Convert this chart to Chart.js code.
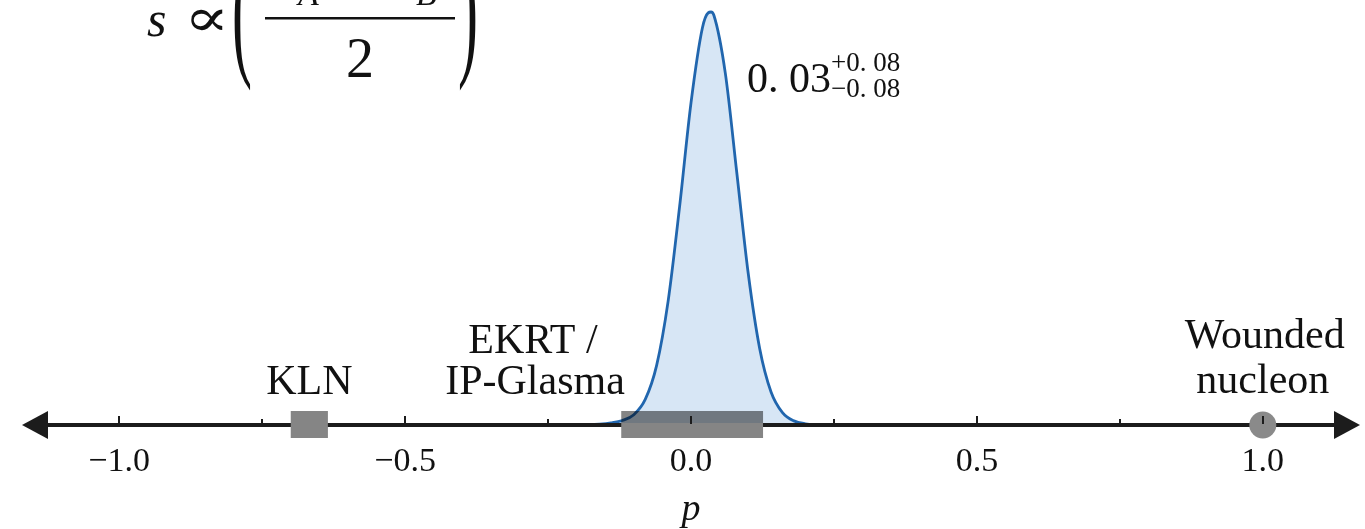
<!DOCTYPE html>
<html><head><meta charset="utf-8">
<script src="https://cdn.jsdelivr.net/npm/chart.js@4.4.1/dist/chart.umd.min.js"></script>
<style>html,body{margin:0;padding:0;background:#fff;overflow:hidden}</style>
</head><body>
<canvas id="c" width="1365" height="529"></canvas>
<script>
// ---- data ----
const pValues = [-0.30,-0.26,-0.22,-0.20,-0.18,-0.16,-0.14,-0.12,-0.10,-0.08,-0.06,-0.04,-0.02,0.00,0.02,0.03,0.035,0.04,0.06,0.08,0.10,0.12,0.14,0.16,0.18,0.20,0.22,0.24,0.28];
const density = [0,0,0.0001,0.0003,0.0007,0.0020,0.0050,0.0110,0.0250,0.062,0.145,0.300,0.528,0.780,0.962,0.998,1.000,0.992,0.852,0.612,0.368,0.186,0.080,0.030,0.010,0.0030,0.0008,0.0002,0];
const tickValues = [-1,-0.75,-0.5,-0.25,0,0.25,0.5,0.75,1];
const tickLabels = ['\u22121.0','','\u22120.5','','0.0','','0.5','','1.0'];
const modelNames = ['KLN','EKRT /','IP-Glasma'];
const modelLo = [-0.700,-0.122];
const modelHi = [-0.635,0.126];
const woundedP = [1.0];
const woundedLabel = ['Wounded','nucleon'];
const estimateText = ['0. 03','+0. 08','\u22120. 08'];
const formulaText = ['s','\u221D','(','T','A','p','+','T','B','p','2',')'];

const SERIF = '"Liberation Serif","Times New Roman","DejaVu Serif",serif';
const INK = '#1c1c1c';
const BOX = '#858585';

function stretched(ctx, ch, x, top, bottom, font){
  ctx.font = font;
  const m = ctx.measureText(ch);
  const asc = m.actualBoundingBoxAscent, desc = m.actualBoundingBoxDescent;
  const k = (bottom - top) / (asc + desc);
  ctx.save(); ctx.translate(x, top); ctx.scale(1, k);
  ctx.textBaseline = 'alphabetic'; ctx.textAlign = 'left';
  ctx.fillText(ch, 0, asc); ctx.restore();
}

const deco = {
  id: 'deco',
  afterDatasetsDraw(chart){
    const ctx = chart.ctx, xs = chart.scales.x, ys = chart.scales.y;
    const y0 = ys.getPixelForValue(0);
    const L = xs.left, R = xs.right;
    ctx.save();
    // axis line and arrows
    ctx.fillStyle = INK;
    ctx.fillRect(L + 10, y0 - 2, R - L - 20, 4);
    ctx.beginPath(); ctx.moveTo(L, y0); ctx.lineTo(L + 26, y0 - 14); ctx.lineTo(L + 26, y0 + 14); ctx.closePath(); ctx.fill();
    ctx.beginPath(); ctx.moveTo(R, y0); ctx.lineTo(R - 26, y0 - 14); ctx.lineTo(R - 26, y0 + 14); ctx.closePath(); ctx.fill();
    // model boxes
    modelLo.forEach((lo, i) => {
      const a = xs.getPixelForValue(lo), b = xs.getPixelForValue(modelHi[i]);
      const top = y0 - 14, bot = y0 + 13;
      ctx.fillStyle = BOX;
      ctx.globalCompositeOperation = 'multiply';
      ctx.fillRect(a, top, b - a, (y0 - 2) - top);
      ctx.globalCompositeOperation = 'source-over';
      ctx.fillRect(a, y0 - 2, b - a, bot - (y0 - 2));
    });
    // wounded nucleon point
    woundedP.forEach(p => {
      ctx.fillStyle = '#8a8a8a';
      ctx.beginPath(); ctx.arc(xs.getPixelForValue(p), y0, 13.5, 0, Math.PI * 2); ctx.fill();
    });
    // tick marks (upwards)
    ctx.strokeStyle = INK; ctx.lineWidth = 2;
    tickValues.forEach((v, i) => {
      const x = Math.round(xs.getPixelForValue(v));
      const len = tickLabels[i] ? 7 : 4;
      ctx.beginPath(); ctx.moveTo(x, y0 - 1); ctx.lineTo(x, y0 - 2 - len); ctx.stroke();
    });
    // labels
    ctx.fillStyle = '#111'; ctx.textAlign = 'center'; ctx.textBaseline = 'alphabetic';
    ctx.font = '42px ' + SERIF;
    const klnX = xs.getPixelForValue((modelLo[0] + modelHi[0]) / 2);
    ctx.fillText(modelNames[0], klnX, 394);
    ctx.fillText(modelNames[1], 533, 353);
    ctx.fillText(modelNames[2], 535, 394);
    const wx = xs.getPixelForValue(woundedP[0]);
    ctx.fillText(woundedLabel[0], wx + 2, 348);
    ctx.fillText(woundedLabel[1], wx, 393);
    // estimate label
    ctx.textAlign = 'left';
    ctx.font = '42px ' + SERIF;
    ctx.fillText(estimateText[0], 747, 92);
    ctx.font = '27px ' + SERIF;
    ctx.fillText(estimateText[1], 831, 71);
    ctx.fillText(estimateText[2], 831, 97);
    // formula (cut by the top edge)
    ctx.font = 'italic 50px ' + SERIF;
    ctx.fillText(formulaText[0], 147, 36);
    ctx.font = '64px "DejaVu Serif",' + SERIF;
    ctx.save(); ctx.translate(184, 36); ctx.scale(1.05, 0.85); ctx.fillText(formulaText[1], 0, 0); ctx.restore();
    stretched(ctx, formulaText[2], 232, -48, 91, '60px ' + SERIF);
    ctx.font = 'italic 50px ' + SERIF;
    ctx.fillText(formulaText[3], 268, -6);
    ctx.font = 'italic 34px ' + SERIF;
    ctx.fillText(formulaText[4], 298, 5);
    ctx.fillText(formulaText[5], 300, -34);
    ctx.font = '50px ' + SERIF;
    ctx.fillText(formulaText[6], 340, -6);
    ctx.font = 'italic 50px ' + SERIF;
    ctx.fillText(formulaText[7], 386, -6);
    ctx.font = 'italic 34px ' + SERIF;
    ctx.fillText(formulaText[8], 416, 5);
    ctx.fillText(formulaText[9], 418, -34);
    ctx.fillStyle = '#111';
    ctx.fillRect(265, 17, 190, 2.5);
    ctx.font = '56px ' + SERIF; ctx.textAlign = 'center';
    ctx.fillText(formulaText[10], 360, 77);
    ctx.textAlign = 'left';
    stretched(ctx, formulaText[11], 458, -48, 91, '60px ' + SERIF);
    ctx.restore();
  }
};

new Chart(document.getElementById('c'), {
  type: 'line',
  data: {
    datasets: [{
      data: pValues.map((p, i) => ({x: p, y: density[i]})),
      borderColor: '#2166ae',
      backgroundColor: '#d7e6f5',
      borderWidth: 2.8,
      fill: 'origin',
      pointRadius: 0,
      cubicInterpolationMode: 'monotone',
      clip: false
    }]
  },
  options: {
    responsive: false,
    animation: false,
    events: [],
    layout: {padding: {top: 12, left: 22, right: 5, bottom: 0}},
    plugins: {legend: {display: false}, tooltip: {enabled: false}, title: {display: false}},
    scales: {
      x: {
        type: 'linear', min: -1.17, max: 1.17,
        afterBuildTicks: s => { s.ticks = tickValues.map(v => ({value: v})); },
        afterFit: s => { s.height = 104; },
        ticks: {
          autoSkip: false, maxRotation: 0,
          callback: (v, i) => tickLabels[i],
          font: {family: SERIF, size: 34, lineHeight: 1},
          color: '#111', padding: 20
        },
        grid: {display: false, drawTicks: false},
        border: {display: false},
        title: {display: true, text: 'p', color: '#111',
          font: {family: SERIF, size: 38, style: 'italic', lineHeight: 1}, padding: 0}
      },
      y: {display: false, min: 0, max: 1}
    }
  },
  plugins: [deco]
});
</script>
</body></html>
